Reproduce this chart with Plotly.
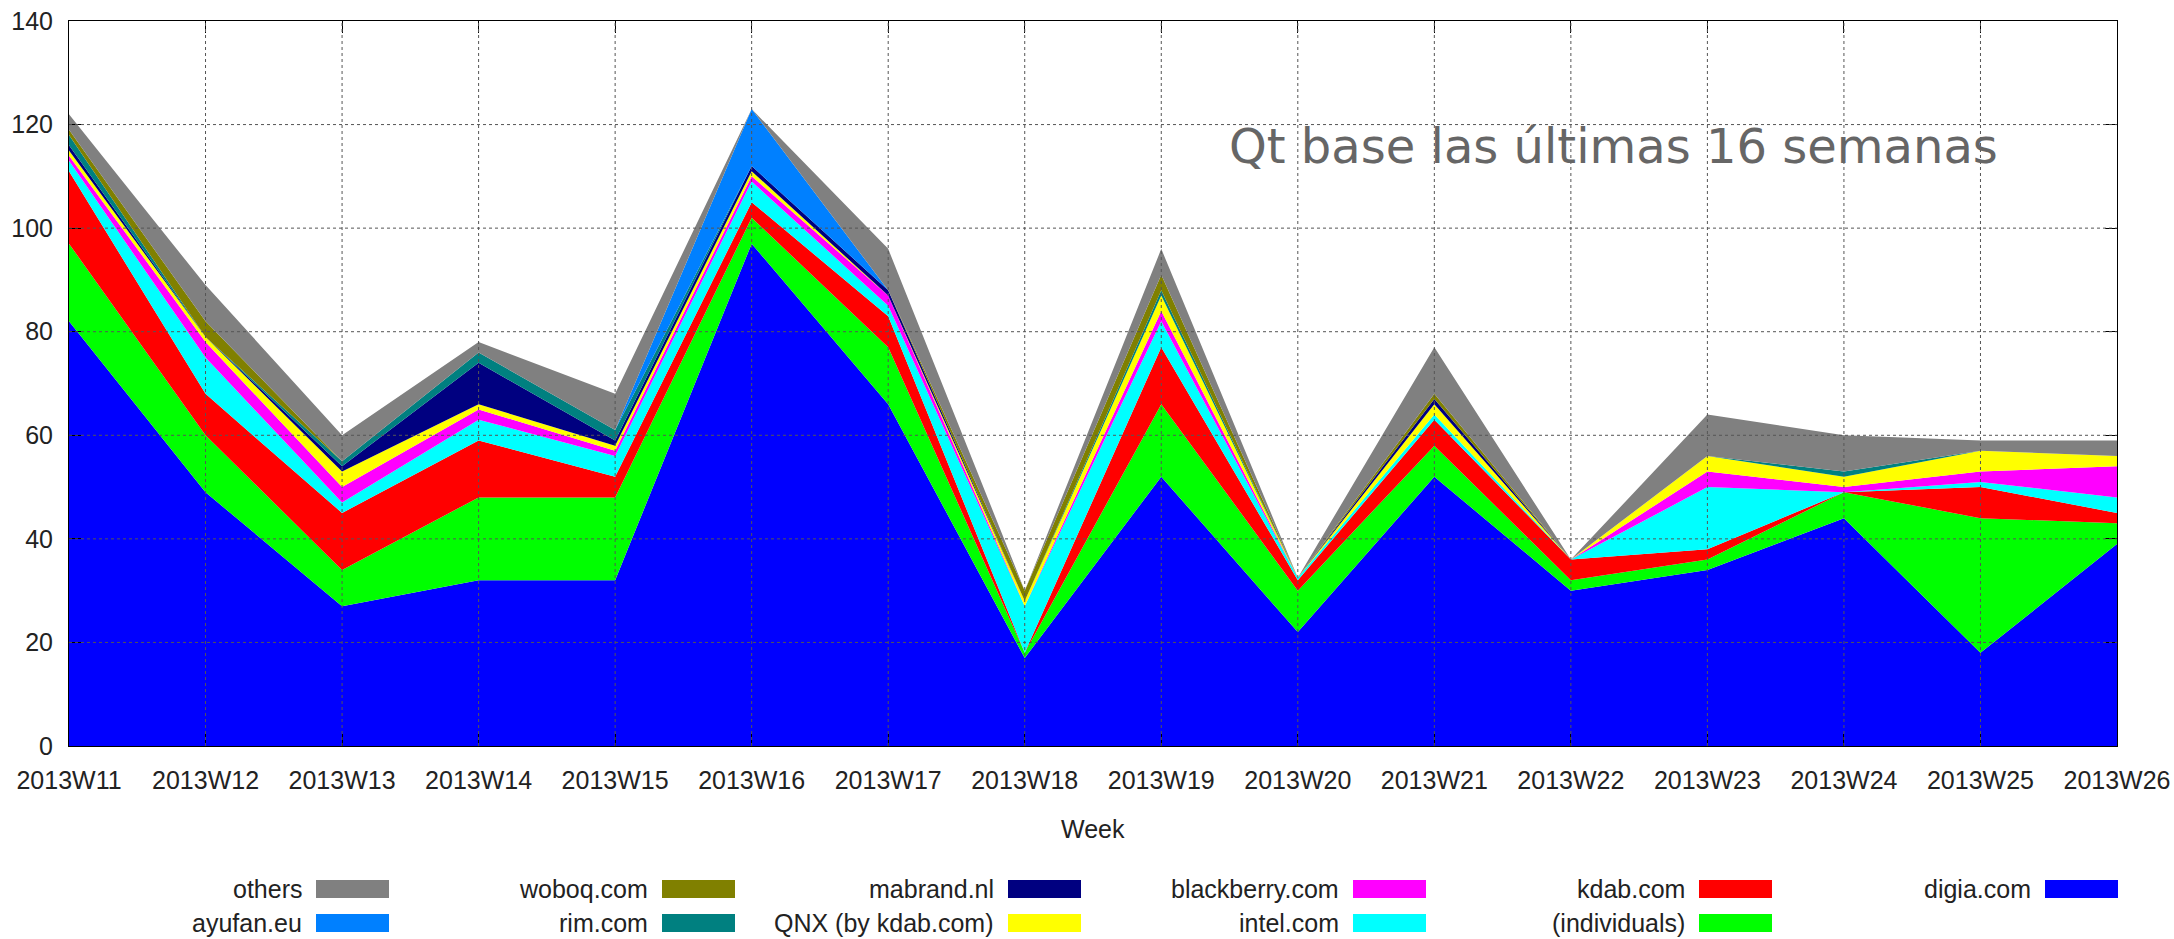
import plotly.graph_objects as go

weeks = ["2013W11", "2013W12", "2013W13", "2013W14", "2013W15", "2013W16", "2013W17", "2013W18",
         "2013W19", "2013W20", "2013W21", "2013W22", "2013W23", "2013W24", "2013W25", "2013W26"]

digia =       [82, 49, 27, 32, 32, 97, 66, 17, 52, 22, 52, 30, 34, 44, 18, 39]
individuals = [15, 11,  7, 16, 16,  5, 11,  1, 14,  8,  6,  2,  2,  5, 26,  4]
kdab =        [14,  8, 11, 11,  4,  3,  6,  0, 11,  2,  5,  4,  2,  0,  6,  2]
intel =       [ 2,  7,  2,  4,  4,  4,  2,  9,  5, 0.5, 1,  0, 12,  0,  1,  3]
blackberry =  [ 1,  3,  3,  2,  1,  1,  2,  0,  2,  0,  0,  0,  3,  1,  2,  6]
qnx =         [ 1,  1,  3,  1,  1,  1,  0,  1,  3,  0,  2,  0,  3,  2,  4,  2]
mabrand =     [ 1,  0,  1,  8,  1,  1,  1,  0,  0,  0,  1,  0,  0,  0,  0,  0]
rim =         [ 2,  0,  1,  2,  2,  0,  0,  0,  1,  0,  0,  0,  0,  1,  0,  0]
woboq =       [ 1,  3,  0,  0,  0,  0,  0,  2,  3,  0,  1,  0,  0,  0,  0,  0]
ayufan =      [ 0,  0,  0,  0,  0, 11,  0,  0,  0,  0,  0,  0,  0,  0,  0,  0]
others =      [ 3,  7,  5,  2,  7,  0,  8,  0,  5,  0,  9,  0,  8,  7,  2,  3]

y_ticks = [0, 20, 40, 60, 80, 100, 120, 140]

# stacking order bottom -> top
series = [
    ("digia.com", digia, "#0000FF"),
    ("(individuals)", individuals, "#00FF00"),
    ("kdab.com", kdab, "#FF0000"),
    ("intel.com", intel, "#00FFFF"),
    ("blackberry.com", blackberry, "#FF00FF"),
    ("QNX (by kdab.com)", qnx, "#FFFF00"),
    ("mabrand.nl", mabrand, "#000080"),
    ("rim.com", rim, "#008080"),
    ("woboq.com", woboq, "#808000"),
    ("ayufan.eu", ayufan, "#0080FF"),
    ("others", others, "#808080"),
]
legend_order = ["others", "ayufan.eu", "woboq.com", "rim.com", "mabrand.nl", "QNX (by kdab.com)",
                "blackberry.com", "intel.com", "kdab.com", "(individuals)", "digia.com"]

W, H = 2174, 939
L, R, T, B = 69, 57, 21, 193
PW, PH = W - L - R, H - T - B

x = list(range(len(weeks)))
fig = go.Figure()
for name, vals, col in series:
    fig.add_trace(go.Scatter(
        x=x, y=vals, name=name, mode="lines", stackgroup="one",
        line=dict(width=0, color=col), fillcolor=col, showlegend=False,
    ))

def px_x(p):
    return (p - L) / PW

def px_y(p):
    return (H - B - p) / PH

shapes = []
# dotted grid over the fills
for i in x[1:-1]:
    shapes.append(dict(type="line", xref="x", yref="paper", x0=i, x1=i, y0=0, y1=1,
                       line=dict(color="#555555", width=1, dash="dot"), layer="above"))
for v in y_ticks[1:-1]:
    shapes.append(dict(type="line", xref="paper", yref="y", x0=0, x1=1, y0=v, y1=v,
                       line=dict(color="#555555", width=1, dash="dot"), layer="above"))

annotations = []
# manual legend: text right-aligned, swatch on the right
col_lefts = [316, 662, 1008, 1353, 1699, 2045]
row_centers = [889, 923]
sw_w, sw_h = 73, 18
colors = {n: c for n, _, c in series}
for k, name in enumerate(legend_order):
    c, r = divmod(k, 2)
    xl = col_lefts[c]
    yc = row_centers[r]
    shapes.append(dict(type="rect", xref="paper", yref="paper",
                       x0=px_x(xl), x1=px_x(xl + sw_w),
                       y0=px_y(yc + sw_h / 2), y1=px_y(yc - sw_h / 2),
                       fillcolor=colors[name], line=dict(width=0)))
    annotations.append(dict(text=name, xref="paper", yref="paper", x=px_x(xl - 12), y=px_y(yc),
                            xanchor="right", yanchor="middle", showarrow=False,
                            font=dict(family="Liberation Sans, Arial, sans-serif", size=25, color="#222222")))

annotations.append(dict(text="Week", xref="paper", yref="paper", x=0.5, y=px_y(829),
                        xanchor="center", yanchor="middle", showarrow=False,
                        font=dict(family="Liberation Sans, Arial, sans-serif", size=25, color="#222222")))
annotations.append(dict(text="Qt base las últimas 16 semanas", xref="paper", yref="paper",
                        x=px_x(1227), y=px_y(146), xanchor="left", yanchor="middle", showarrow=False,
                        font=dict(family="DejaVu Sans, sans-serif", size=48, color="#666666")))

axis_common = dict(showline=True, linecolor="black", linewidth=1, mirror="allticks",
                   ticks="inside", ticklen=12, tickcolor="black", tickwidth=1,
                   showgrid=False, zeroline=False, automargin=False,
                   tickfont=dict(family="Liberation Sans, Arial, sans-serif", size=25, color="#222222"))

fig.update_layout(
    width=W, height=H, autosize=False, margin=dict(l=L, r=R, t=T, b=B, pad=0, autoexpand=False),
    plot_bgcolor="white", paper_bgcolor="white",
    xaxis=dict(range=[0, len(weeks) - 1], tickvals=x, ticktext=weeks, ticklabelstandoff=12, **axis_common),
    yaxis=dict(range=[0, 140], tickvals=y_ticks, ticklabelstandoff=10, **axis_common),
    shapes=shapes, annotations=annotations, showlegend=False,
)

fig.write_html("out.html",
               config={"displayModeBar": False, "responsive": False},
               post_script="document.body.style.margin='0px';document.body.style.overflow='hidden';")
